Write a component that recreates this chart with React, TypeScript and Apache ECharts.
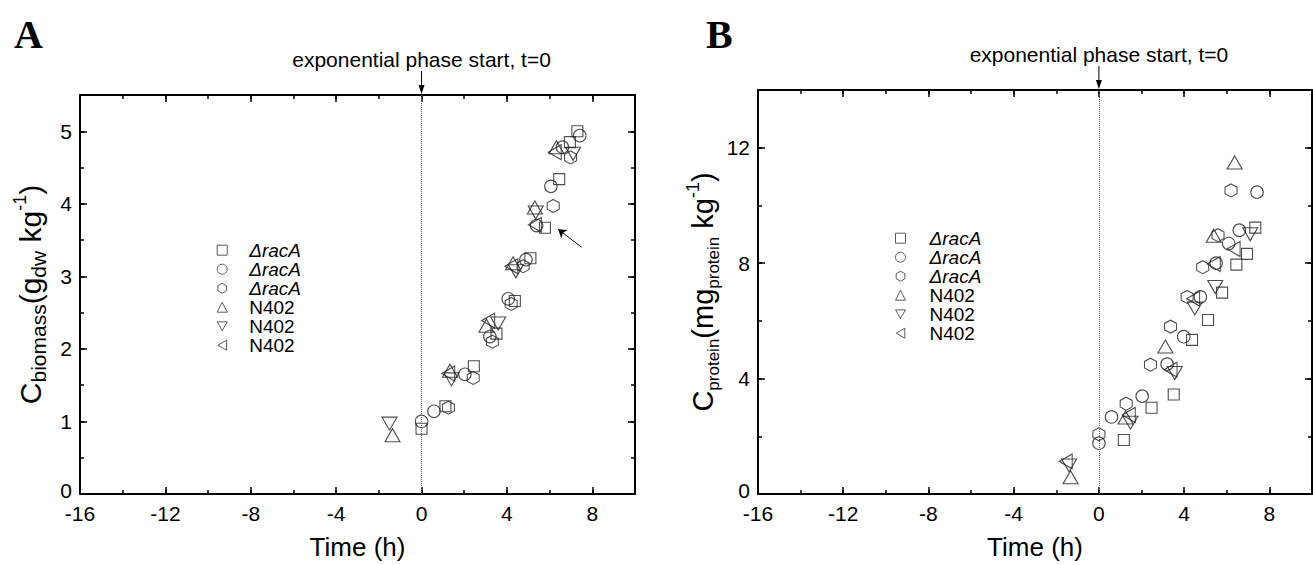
import { useEffect, useRef } from 'react';
import * as echarts from 'echarts';

const FONT = '"Liberation Sans", Arial, Helvetica, sans-serif';

const legendLabels = ['ΔracA', 'ΔracA', 'ΔracA', 'N402', 'N402', 'N402'];

// Panel A: biomass (Time h, g_dw/kg)
const biomassRacA1 = [[0, 0.9], [1.12, 1.21], [2.45, 1.76], [3.51, 2.21], [4.37, 2.66], [5.1, 3.25], [5.78, 3.67], [6.45, 4.34], [6.95, 4.85], [7.3, 5.0]];
const biomassRacA2 = [[0, 1.0], [0.58, 1.14], [2.03, 1.65], [3.2, 2.17], [4.06, 2.69], [4.89, 3.23], [5.39, 3.7], [6.06, 4.24], [6.6, 4.78], [7.41, 4.94]];
const biomassRacA3 = [[1.26, 1.19], [2.42, 1.6], [3.32, 2.1], [4.2, 2.62], [4.76, 3.14], [6.17, 3.97], [6.98, 4.64]];
const biomassN402a = [[-1.36, 0.81], [1.33, 1.7], [3.04, 2.32], [4.29, 3.18], [5.31, 3.95], [6.32, 4.78]];
const biomassN402b = [[-1.5, 0.97], [1.4, 1.58], [3.59, 2.35], [4.42, 3.07], [5.35, 3.88], [7.1, 4.69]];
const biomassN402c = [[1.25, 1.66], [3.12, 2.39], [4.21, 3.14], [5.31, 3.71], [6.24, 4.71]];

// Panel B: protein (Time h, mg_protein/kg)
const proteinRacA1 = [[1.17, 1.87], [2.47, 2.99], [3.51, 3.45], [4.37, 5.34], [5.12, 6.03], [5.78, 6.98], [6.45, 7.95], [6.95, 8.32], [7.34, 9.23]];
const proteinRacA2 = [[0, 1.76], [0.59, 2.67], [2.03, 3.39], [3.2, 4.5], [3.98, 5.45], [4.76, 6.83], [5.5, 8.0], [6.09, 8.68], [6.59, 9.14], [7.42, 10.46]];
const proteinRacA3 = [[0, 2.07], [1.28, 3.13], [2.42, 4.48], [3.36, 5.8], [4.14, 6.83], [4.87, 7.86], [5.59, 8.97], [6.2, 10.52]];
const proteinN402a = [[-1.33, 0.58], [1.25, 2.65], [3.12, 5.11], [5.39, 8.95], [6.37, 11.49]];
const proteinN402b = [[-1.4, 0.99], [1.48, 2.47], [3.56, 4.19], [4.5, 6.43], [5.46, 7.17], [7.1, 9.0]];
const proteinN402c = [[-1.56, 1.13], [1.4, 2.74], [3.36, 4.31], [4.42, 6.77], [5.39, 7.97], [6.32, 8.49]];

const biomassSets = [biomassRacA1, biomassRacA2, biomassRacA3, biomassN402a, biomassN402b, biomassN402c];
const proteinSets = [proteinRacA1, proteinRacA2, proteinRacA3, proteinN402a, proteinN402b, proteinN402c];

const timeRange = { min: -16, max: 10, major: 4, minor: 2 };
const biomassRange = { min: 0, max: 5.5, major: 1, minor: 0.5 };
const proteinRange = { min: 0, max: 14, major: 4, minor: 2 };

const symbols = [
  'rect',
  'circle',
  'path://M50,0L93.3,25L93.3,75L50,100L6.7,75L6.7,25Z',
  'triangle',
  'path://M0,0L100,0L50,87Z',
  'path://M87,0L87,100L0,50Z',
];
const symbolSizes = [[11, 11], [12.5, 12.5], [12, 13], [15, 13], [15, 13], [13, 15]];

const markerStyle = { color: 'transparent', borderColor: '#222', borderWidth: 1.1 };

function xAxes(gridIndex: number) {
  const base = {
    type: 'value', gridIndex, min: timeRange.min, max: timeRange.max,
    splitLine: { show: false },
  };
  return [
    {
      ...base, position: 'bottom', interval: timeRange.major,
      axisLine: { show: true, onZero: false, lineStyle: { color: '#000', width: 2 } },
      axisTick: { show: true, inside: true, length: 7, lineStyle: { color: '#000', width: 1.5 } },
      axisLabel: { show: true, color: '#000', fontSize: 21, lineHeight: 18, fontFamily: FONT, margin: 10, showMaxLabel: false },
      name: 'Time (h)', nameLocation: 'middle', nameGap: 40,
      nameTextStyle: { color: '#000', fontSize: 26, fontFamily: FONT },
    },
    {
      ...base, position: 'bottom', interval: timeRange.minor,
      axisLine: { show: false, onZero: false },
      axisTick: { show: true, inside: true, length: 4, lineStyle: { color: '#000', width: 1.5 } },
      axisLabel: { show: false },
    },
    {
      ...base, position: 'top', interval: timeRange.major,
      axisLine: { show: true, onZero: false, lineStyle: { color: '#000', width: 2 } },
      axisTick: { show: true, inside: true, length: 7, lineStyle: { color: '#000', width: 1.5 } },
      axisLabel: { show: false },
    },
    {
      ...base, position: 'top', interval: timeRange.minor,
      axisLine: { show: false, onZero: false },
      axisTick: { show: true, inside: true, length: 4, lineStyle: { color: '#000', width: 1.5 } },
      axisLabel: { show: false },
    },
  ];
}

function yAxes(gridIndex: number, r: { min: number; max: number; major: number; minor: number }, name: string, nameGap: number, main: number, sub: number) {
  const base = { type: 'value', gridIndex, min: r.min, max: r.max, splitLine: { show: false } };
  const rich = {
    m: { fontSize: main, fontFamily: FONT, color: '#000', lineHeight: 38 },
    s: { fontSize: sub, fontFamily: FONT, color: '#000', lineHeight: sub, verticalAlign: 'bottom' },
    p: { fontSize: 18, fontFamily: FONT, color: '#000', lineHeight: 18, verticalAlign: 'top' },
  };
  return [
    {
      ...base, position: 'left', interval: r.major,
      axisLine: { show: true, onZero: false, lineStyle: { color: '#000', width: 2 } },
      axisTick: { show: true, inside: true, length: 7, lineStyle: { color: '#000', width: 1.5 } },
      axisLabel: {
        show: true, color: '#000', fontSize: 21, lineHeight: 15, fontFamily: FONT, margin: 8, showMaxLabel: false,
        formatter: (v: number) => (v === r.min ? `{z|${v}}` : `${v}`),
        rich: { z: { fontSize: 21, fontFamily: FONT, color: '#000', lineHeight: 15, padding: [0, 0, 8, 0] } },
      },
      name, nameLocation: 'middle', nameRotate: 90, nameGap,
      nameTextStyle: { rich },
    },
    {
      ...base, position: 'left', interval: r.minor,
      axisLine: { show: false, onZero: false },
      axisTick: { show: true, inside: true, length: 4, lineStyle: { color: '#000', width: 1.5 } },
      axisLabel: { show: false },
    },
    {
      ...base, position: 'right', interval: r.major,
      axisLine: { show: true, onZero: false, lineStyle: { color: '#000', width: 2 } },
      axisTick: { show: true, inside: true, length: 7, lineStyle: { color: '#000', width: 1.5 } },
      axisLabel: { show: false },
    },
    {
      ...base, position: 'right', interval: r.minor,
      axisLine: { show: false, onZero: false },
      axisTick: { show: true, inside: true, length: 4, lineStyle: { color: '#000', width: 1.5 } },
      axisLabel: { show: false },
    },
  ];
}

function makeSeries(prefix: string, sets: number[][][], axisIndex: number) {
  return sets.map((data, i) => {
    const s: any = {
      type: 'scatter',
      name: `${prefix}:${legendLabels[i]}:${i}`,
      xAxisIndex: axisIndex,
      yAxisIndex: axisIndex,
      data,
      symbol: symbols[i],
      symbolSize: symbolSizes[i],
      symbolKeepAspect: false,
      itemStyle: markerStyle,
      silent: true,
      emphasis: { disabled: true },
    };
    if (i === 0) {
      s.markLine = {
        silent: true, symbol: 'none', label: { show: false },
        lineStyle: { type: 'dotted', color: '#666', width: 1 },
        data: [{ xAxis: 0 }],
      };
    }
    return s;
  });
}

function makeLegend(prefix: string, left: number, top: number, pad: number) {
  const rich = {
    i: { fontStyle: 'italic', fontSize: 19, fontFamily: FONT, color: '#000', padding: [0, 0, 0, pad], lineHeight: 18.6 },
    n: { fontSize: 19, fontFamily: FONT, color: '#000', padding: [0, 0, 0, pad], lineHeight: 18.6 },
  };
  return {
    data: legendLabels.map((l, i) => `${prefix}:${l}:${i}`),
    orient: 'vertical', left, top,
    itemWidth: 10, itemHeight: 10, itemGap: 0,
    selectedMode: false,
    itemStyle: { color: 'transparent', borderColor: '#333', borderWidth: 1 },
    formatter: (n: string) => {
      const label = n.split(':')[1];
      return label === 'N402' ? `{n|${label}}` : `{i|${label}}`;
    },
    textStyle: { fontSize: 19, fontFamily: FONT, color: '#000', lineHeight: 18.6, rich },
  };
}

export default function App() {
  const ref = useRef<HTMLDivElement>(null);
  useEffect(() => {
    const chart = echarts.init(ref.current!, null, { renderer: 'svg' });
    const seriesA = makeSeries('A', biomassSets, 0);
    seriesA[1].markLine = {
      silent: true, symbol: ['none', 'arrow'], symbolSize: 8, label: { show: false },
      lineStyle: { type: 'solid', color: '#000', width: 1 },
      data: [[{ coord: [7.5, 3.4] }, { coord: [6.4, 3.65] }]],
    };
    const seriesB = makeSeries('B', proteinSets, 4);
    const option: any = {
      animation: false,
      backgroundColor: '#fff',
      grid: [
        { left: 80, top: 95, width: 555, height: 407 },
        { left: 758, top: 90, width: 554, height: 407 },
      ],
      xAxis: [...xAxes(0), ...xAxes(1)],
      yAxis: [
        ...yAxes(0, biomassRange, '{m|C}{s|biomass}{m|(g}{s|dw}{m| kg}{p|-1}{m|)}', 31, 30, 21),
        ...yAxes(1, proteinRange, '{m|C}{s|protein}{m|(mg}{s|protein}{m| kg}{p|-1}{m|)}', 36, 29, 17),
      ],
      legend: [makeLegend('A', 211.7, 235.7, 17), makeLegend('B', 890, 223.7, 19)],
      series: [...seriesA, ...seriesB],
    };
    chart.setOption(option);

    const graphics: any[] = [];
    const panels = [
      { grid: 0, ymax: biomassRange.max, letter: 'A', lx: 14 },
      { grid: 1, ymax: proteinRange.max, letter: 'B', lx: 706 },
    ];
    panels.forEach((p) => {
      const pt = chart.convertToPixel({ gridIndex: p.grid }, [0, p.ymax]) as number[];
      const px = pt[0];
      const top = pt[1];
      graphics.push(
        { type: 'text', left: p.lx, top: 14, style: { text: p.letter, font: 'bold 40px "Liberation Serif", "Times New Roman", serif', fill: '#000' } },
        { type: 'text', x: px, y: top - 36, style: { text: 'exponential phase start, t=0', fontSize: 21, fontFamily: FONT, fill: '#000', align: 'center', verticalAlign: 'middle' } },
        { type: 'line', shape: { x1: px, y1: top - 24, x2: px, y2: top - 7 }, style: { stroke: '#000', lineWidth: 1 } },
        { type: 'polygon', shape: { points: [[px - 3, top - 10], [px + 3, top - 10], [px, top - 1]] }, style: { fill: '#000' } },
      );
    });
    chart.setOption({ graphic: graphics });
    return () => chart.dispose();
  }, []);
  return <div ref={ref} style={{ position: 'fixed', left: 0, top: 0, width: 1313, height: 565, background: '#fff' }} />;
}
